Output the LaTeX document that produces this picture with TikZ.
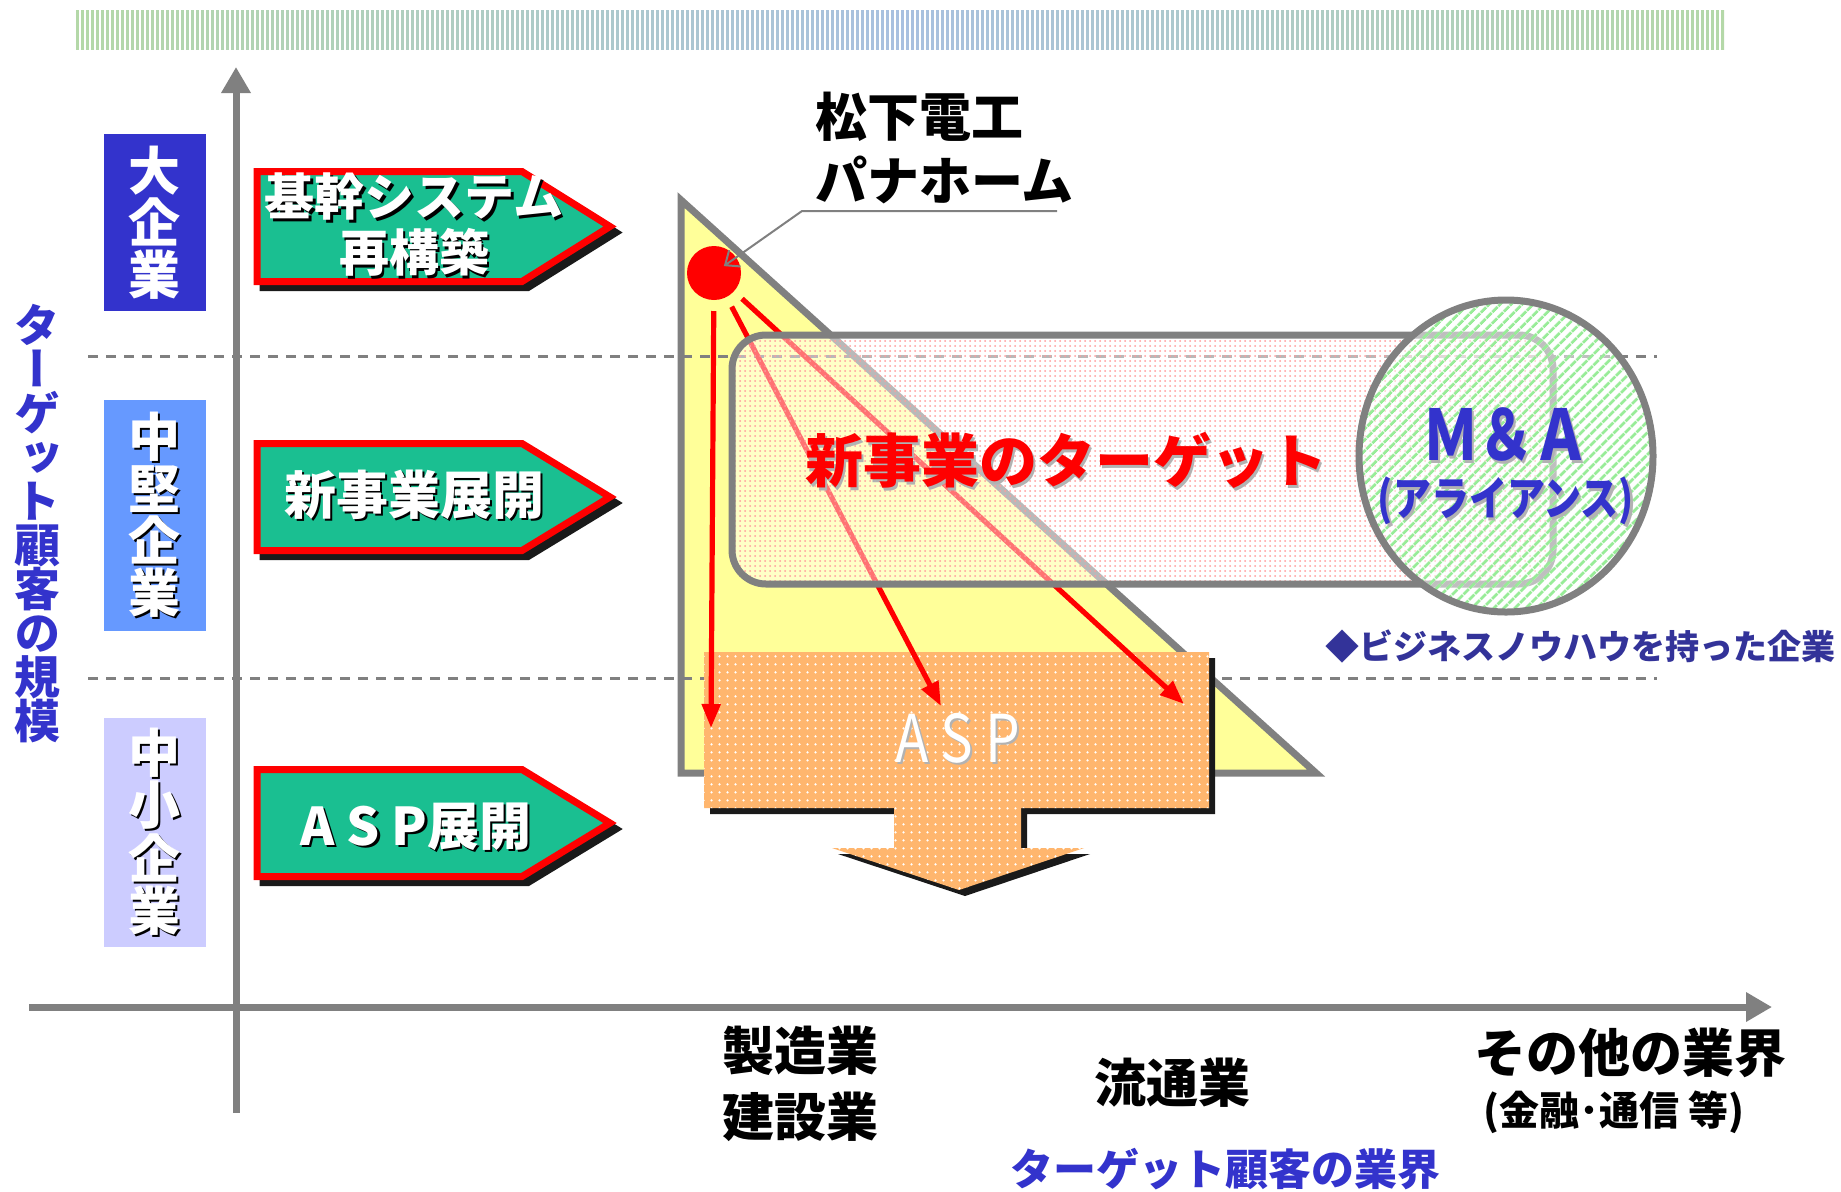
\documentclass[tikz,border=0pt]{standalone}
\usepackage{fontspec}
\setmainfont{Noto Sans CJK JP}
\newfontfamily\vjp{Noto Sans CJK JP}[RawFeature=+vert]
\usetikzlibrary{arrows.meta,patterns.meta,shapes.geometric}
\definecolor{axisgray}{HTML}{808080}
\definecolor{arrgreen}{HTML}{1ABF91}
\definecolor{dblue}{HTML}{3333CC}
\definecolor{mblue}{HTML}{6699FF}
\definecolor{lblue}{HTML}{CCCCFF}
\definecolor{navy}{HTML}{333399}
\definecolor{tyellow}{HTML}{FFFF99}
\definecolor{aspor}{HTML}{FFB66E}
\definecolor{shblack}{HTML}{1A1A1A}
\definecolor{bandg}{HTML}{B4D8A8}
\definecolor{bandb}{HTML}{A8C0E0}
\definecolor{stripeg}{HTML}{98EC98}
\definecolor{dotpink}{HTML}{FF9C9C}
\newcommand{\dropt}[2]{\rlap{\kern1.2pt\raisebox{-1.2pt}{\textcolor{#1}{#2}}}#2}
\begin{document}
\begin{tikzpicture}[x=0.5pt,y=-0.5pt,
  axisline/.style={draw=axisgray,line width=3.5pt,-{Triangle[length=13pt,width=14pt]}},
  gridline/.style={draw=axisgray,line width=1.5pt,dash pattern=on 5pt off 4pt},
  sizebox/.style={minimum width=51pt,inner sep=0pt,align=center,text=white,font=\bfseries\fontsize{26}{26}\selectfont},
  pentshape/.style={fill=arrgreen,draw=red,line width=3.5pt},
  pentshadow/.style={fill=shblack,draw=shblack,line width=3.5pt},
  penttext/.style={text=white,align=center,inner sep=0pt,font=\bfseries\fontsize{25}{28}\selectfont},
  redarrow/.style={draw=red,line width=2.6pt,-{Triangle[length=12pt,width=9pt]},shorten <=19pt},
  industry/.style={align=center,inner sep=0pt,font=\bfseries\fontsize{26}{33}\selectfont},
  callout/.style={draw=axisgray,line width=1pt,-{Straight Barb[length=6pt,width=10pt]},shorten >=6pt},
]
\useasboundingbox (0,0) rectangle (1841,1191);
\fill[white] (0,0) rectangle (1841,1191);

% top band
\shade[left color=bandg,right color=bandg,middle color=bandb] (76,10) rectangle (1724,49);
\fill[pattern={Lines[angle=90,distance=2.5pt,line width=0.8pt]},pattern color=white] (76,10) rectangle (1724,49);

% triangle
\draw[fill=tyellow,draw=axisgray,line width=3.5pt] (681,200) -- (681,773) -- (1316,773) -- cycle;

% dashed grid lines
\draw[gridline] (88,356) -- (1657,356);
\draw[gridline] (88,678) -- (1657,678);

% axes
\coordinate (yb) at (236,1113);
\coordinate (yt) at (236,67);
\coordinate (xl) at (29,1007);
\coordinate (xr) at (1772,1007);
\draw[axisline] (yb) -- (yt);
\draw[axisline] (xl) -- (xr);

% size boxes
\node[sizebox,fill=dblue,minimum height=88.5pt] (big) at (154.5,222.5) {大\\企\\業};
\node[sizebox,fill=mblue,minimum height=115.5pt] (mid) at (154.5,515.5) {\dropt{black}{中}\\\dropt{black}{堅}\\\dropt{black}{企}\\\dropt{black}{業}};
\node[sizebox,fill=lblue,minimum height=114.5pt] (small) at (154.5,832.5) {\dropt{black}{中}\\\dropt{black}{小}\\\dropt{black}{企}\\\dropt{black}{業}};

% vertical axis label
\node[font=\vjp\bfseries\fontsize{23}{22}\selectfont,text=dblue,align=center,inner sep=0pt] (ylab) at (37,524) {タ\\ー\\ゲ\\ッ\\ト\\顧\\客\\の\\規\\模};

% pentagon arrows
\path[pentshadow,shift={(6,6)}] (257,171.5) -- (522,171.5) -- (610,226.5) -- (522,281.5) -- (257,281.5) -- cycle;
\path[pentshape] (257,171.5) -- (522,171.5) -- (610,226.5) -- (522,281.5) -- (257,281.5) -- cycle;
\path[pentshadow,shift={(6,6)}] (257,443.5) -- (522,443.5) -- (610,497) -- (522,550.5) -- (257,550.5) -- cycle;
\path[pentshape] (257,443.5) -- (522,443.5) -- (610,497) -- (522,550.5) -- (257,550.5) -- cycle;
\path[pentshadow,shift={(6,6)}] (257,769.5) -- (522,769.5) -- (610,823) -- (522,876.5) -- (257,876.5) -- cycle;
\path[pentshape] (257,769.5) -- (522,769.5) -- (610,823) -- (522,876.5) -- (257,876.5) -- cycle;
\node[penttext] (p1) at (414,226) {\dropt{black}{基幹システム}\\\dropt{black}{再構築}};
\node[penttext,font=\bfseries\fontsize{26}{28}\selectfont] (p2) at (414,496) {\dropt{black}{新事業展開}};
\node[penttext,font=\bfseries\fontsize{26}{28}\selectfont] (p3) at (416,828) {\dropt{black}{A S P展開}};

% ASP shape
\path[fill=shblack,shift={(6,6)}] (704,652) -- (1209,652) -- (1209,808) -- (1021,808) -- (1021,848) -- (1084,848) -- (959,890) -- (832,848) -- (894,848) -- (894,808) -- (704,808) -- cycle;
\path[fill=aspor] (704,652) -- (1209,652) -- (1209,808) -- (1021,808) -- (1021,848) -- (1084,848) -- (959,890) -- (832,848) -- (894,848) -- (894,808) -- (704,808) -- cycle;
\path[pattern={Dots[distance=4pt,radius=0.7pt]},pattern color=white] (704,652) -- (1209,652) -- (1209,808) -- (1021,808) -- (1021,848) -- (1084,848) -- (959,890) -- (832,848) -- (894,848) -- (894,808) -- (704,808) -- cycle;
\node[text=white,inner sep=0pt,font=\fontsize{33}{33}\selectfont] (asp) at (958,739) {\scalebox{0.83}[1]{\dropt{gray!60}{A S P}}};

% red circle and arrows
\node[circle,fill=red,minimum size=27pt,inner sep=0pt] (redc) at (714,273) {};
\coordinate (t1) at (711,728);
\coordinate (t2) at (941,706);
\coordinate (t3) at (1184,704);
\draw[redarrow] (redc.center) -- (t1);
\draw[redarrow] (redc.center) -- (t2);
\draw[redarrow] (redc.center) -- (t3);

% callout
\node[anchor=west,align=left,inner sep=0pt,font=\bfseries\fontsize{26}{32}\selectfont] (mew) at (815,148) {松下電工\\パナホーム};
\coordinate (c1) at (1057,211);
\coordinate (c2) at (802,211);
\draw[callout] (c1) -- (c2) -- (redc.center);

% new business rounded rectangle
\fill[white,opacity=0.45,rounded corners=17pt] (732,335) rectangle (1553,584);
\fill[pattern={Dots[distance=2.5pt,radius=0.5pt]},pattern color=dotpink,rounded corners=17pt] (732,335) rectangle (1553,584);
\draw[axisgray,line width=3.5pt,rounded corners=17pt] (732,335) rectangle (1553,584);
\node[text=red,inner sep=0pt,font=\bfseries\fontsize{29}{29}\selectfont] (nbt) at (1066,462) {\dropt{gray!60}{新事業のターゲット}};

% M&A circle
\node[ellipse,minimum width=147pt,minimum height=156pt,inner sep=0pt,draw=axisgray,line width=3.5pt,
  preaction={fill=white,fill opacity=0.5},
  pattern={Lines[angle=45,distance=4pt,line width=1.6pt]},pattern color=stripeg] (mac) at (1506,456) {};
\node[text=dblue,inner sep=0pt,font=\bfseries\fontsize{29}{29}\selectfont] (matext) at (1506,436) {\scalebox{0.95}[1.2]{\dropt{gray!60}{Ｍ＆Ａ}}};
\node[text=dblue,inner sep=0pt,font=\bfseries\fontsize{20}{20}\selectfont] (alli) at (1506,502) {\scalebox{0.95}[1.15]{\dropt{gray!60}{(アライアンス)}}};
\node[text=navy,inner sep=0pt,font=\bfseries\fontsize{17}{17}\selectfont] (know) at (1580,646) {◆ビジネスノウハウを持った企業};

% industries
\node[industry] (mfg) at (800,1084) {製造業\\建設業};
\node[industry] (dist) at (1172,1083) {流通業};
\node[industry] (other) at (1630,1053) {その他の業界};
\node[inner sep=0pt,font=\bfseries\fontsize{20}{20}\selectfont] (fin) at (1614,1112) {(金融･通信 等)};
\node[text=dblue,inner sep=0pt,font=\bfseries\fontsize{21.5}{21.5}\selectfont] (xlab) at (1225,1169) {ターゲット顧客の業界};
\end{tikzpicture}
\end{document}
